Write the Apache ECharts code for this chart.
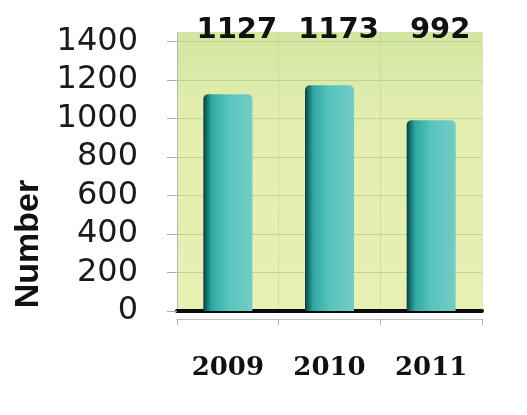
<!DOCTYPE html>
<html><head><meta charset="utf-8">
<script src="https://cdn.jsdelivr.net/npm/echarts@6/dist/echarts.min.js"></script>
<style>html,body{margin:0;padding:0;background:#fff}#c{width:527px;height:415px}</style>
</head><body><div id="c"></div>
<script>
const categories = ['2009', '2010', '2011'];
const values = [1127, 1173, 992];
const yTicks = [0, 200, 400, 600, 800, 1000, 1200, 1400];

const chart = echarts.init(document.getElementById('c'));
const barGrad = new echarts.graphic.LinearGradient(0, 0, 1, 0, [
  {offset: 0, color: '#0a3d3c'},
  {offset: 0.07, color: '#14706d'},
  {offset: 0.17, color: '#2fa8a2'},
  {offset: 0.5, color: '#58c4bd'},
  {offset: 1, color: '#72ccc5'}
]);
chart.setOption({
  animation: false,
  grid: {left: 177, right: 45, top: 32, bottom: 104, outerBoundsMode: 'none', containLabel: false,
    backgroundColor: new echarts.graphic.LinearGradient(0,0,0,1,[
    {offset:0,color:'#d2e6a0'},{offset:0.3,color:'#e2eeb0'},{offset:1,color:'#e8f0b4'}]), show: true, borderWidth: 0},
  xAxis: [
    {type: 'category', data: categories, position: 'bottom',
     axisLine: {lineStyle: {color: '#0a0a0a', width: 4}}, axisTick: {show: false}, axisLabel: {show: false},
     splitLine: {show: true, lineStyle: {color: 'rgba(190,205,140,0.5)', width: 1}}},
    {type: 'category', data: values.map(String), position: 'top',
     axisLine: {show: false}, axisTick: {show: false},
     axisLabel: {interval: 0, margin: -13, padding: [0, 0, 0, 18], fontFamily: 'DejaVu Sans', fontWeight: 'bold', fontSize: 29, color: '#111'}},
    {type: 'category', data: categories, position: 'bottom', offset: 8,
     axisLine: {lineStyle: {color: '#b8c0c0', width: 1}}, axisTick: {show: true, length: 6, lineStyle: {color: '#a8b0b0'}},
     axisLabel: {interval: 0, margin: 36, fontFamily: 'DejaVu Serif', fontWeight: 'bold', fontSize: 26, color: '#111'}}
  ],
  yAxis: {type: 'value', min: 0, max: 1450, interval: 200,
    name: 'Number', nameLocation: 'middle', nameGap: 118, nameRotate: 90,
    nameTextStyle: {fontFamily: 'Liberation Sans', fontWeight: 'bold', fontSize: 34, color: '#111', padding: [0, 145, 0, 0]},
    axisLine: {show: true, lineStyle: {color: '#b0b8b0'}},
    axisTick: {show: true, length: 10, customValues: yTicks, lineStyle: {color: '#a8b0a8'}},
    axisLabel: {margin: 39, customValues: yTicks, formatter: v => String(v), fontFamily: 'DejaVu Sans', fontSize: 32, color: '#1a1a1a'},
    splitLine: {show: true, lineStyle: {color: '#c0d690', width: 1}}
  },
  series: [{type: 'bar', xAxisIndex: 0, data: values, barWidth: 49,
    itemStyle: {color: barGrad, borderRadius: [5, 5, 0, 0]}}]
});
</script></body></html>
